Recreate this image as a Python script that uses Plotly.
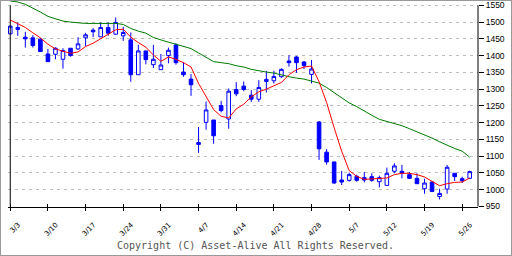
import plotly.graph_objects as go

# ---- data ----
tick_labels = ["3/3", "3/10", "3/17", "3/24", "3/31", "4/7", "4/14",
               "4/21", "4/28", "5/7", "5/12", "5/19", "5/26"]

opens = [1465, 1478, 1455, 1453, 1449, 1405, 1404, 1389, 1422, 1420,
         1453, 1476, 1456, 1484, 1464, 1459, 1447, 1343, 1414, 1373,
         1358, 1400, 1432, 1351, 1330, 1135, 1201, 1208, 1251, 1211,
         1299, 1309, 1282, 1270, 1323, 1325, 1337, 1384, 1396, 1381,
         1344, 1202, 1112, 1083, 1029, 1028, 1040, 1036, 1039, 1024,
         1013, 1055, 1055, 1045, 1034, 1003, 1023, 980, 1002, 1049,
         1033, 1034]
highs = [1490, 1499, 1471, 1461, 1452, 1420, 1425, 1422, 1422, 1455,
         1468, 1482, 1499, 1499, 1514, 1486, 1469, 1432, 1414, 1432,
         1405, 1424, 1437, 1380, 1345, 1187, 1263, 1208, 1265, 1302,
         1321, 1323, 1297, 1327, 1354, 1355, 1362, 1401, 1399, 1384,
         1387, 1205, 1121, 1083, 1056, 1051, 1045, 1053, 1049, 1042,
         1066, 1079, 1074, 1053, 1049, 1033, 1023, 1003, 1074, 1049,
         1039, 1057]
lows = [1463, 1459, 1424, 1424, 1411, 1382, 1389, 1361, 1397, 1417,
        1428, 1455, 1456, 1459, 1462, 1444, 1322, 1343, 1374, 1363,
        1358, 1377, 1373, 1337, 1280, 1110, 1179, 1137, 1231, 1182,
        1279, 1294, 1262, 1262, 1290, 1317, 1334, 1367, 1349, 1360,
        1317, 1089, 1075, 1018, 1014, 1024, 1024, 1022, 1024, 1007,
        1013, 1049, 1034, 1032, 1018, 988, 993, 971, 988, 1026,
        1020, 1032]
closes = [1488, 1484, 1450, 1430, 1412, 1382, 1422, 1415, 1400, 1435,
          1462, 1471, 1484, 1467, 1499, 1469, 1343, 1414, 1388, 1389,
          1372, 1416, 1379, 1343, 1313, 1141, 1238, 1161, 1236, 1294,
          1286, 1299, 1270, 1305, 1329, 1338, 1359, 1379, 1379, 1370,
          1360, 1122, 1083, 1020, 1023, 1045, 1028, 1029, 1028, 1036,
          1049, 1071, 1049, 1034, 1018, 1020, 995, 989, 1067, 1039,
          1027, 1054]

ma_short = [1506, 1495, 1484, 1468, 1453, 1434, 1420, 1413, 1407, 1411,
            1427, 1437, 1451, 1465, 1477, 1479, 1455, 1439, 1425, 1402,
            1383, 1396, 1389, 1379, 1366, 1317, 1280, 1239, 1219, 1214,
            1241, 1255, 1277, 1292, 1300, 1309, 1320, 1343, 1358, 1366,
            1369, 1322, 1260, 1185, 1115, 1057, 1040, 1031, 1032, 1033,
            1035, 1045, 1049, 1049, 1045, 1038, 1025, 1012, 1018, 1022,
            1023, 1035]
ma_long = [1563, 1560, 1553, 1542, 1530, 1517, 1509, 1503, 1500, 1497,
           1496, 1496, 1496, 1496, 1496, 1493, 1481, 1473, 1467, 1454,
           1446, 1440, 1434, 1427, 1421, 1408, 1394, 1382, 1379, 1376,
           1370, 1366, 1359, 1354, 1351, 1348, 1342, 1337, 1333, 1330,
           1324, 1318, 1305, 1290, 1274, 1259, 1248, 1234, 1222, 1210,
           1204, 1199, 1191, 1182, 1173, 1163, 1154, 1143, 1132, 1123,
           1115, 1097]

idx = list(range(len(closes)))
tick_vals = idx[::5]
y_ticks = list(range(950, 1551, 50))

BLUE = "#0000FF"

fig = go.Figure()
fig.add_trace(go.Candlestick(
    x=idx, open=opens, high=highs, low=lows, close=closes,
    increasing=dict(line=dict(color=BLUE, width=1), fillcolor="#FFFFFF"),
    decreasing=dict(line=dict(color=BLUE, width=1), fillcolor=BLUE),
    whiskerwidth=0, showlegend=False, hoverinfo="skip"))
fig.add_trace(go.Scatter(x=idx, y=ma_long, mode="lines",
                         line=dict(color="#007A00", width=1), showlegend=False))
fig.add_trace(go.Scatter(x=idx, y=ma_short, mode="lines",
                         line=dict(color="#FF0000", width=1), showlegend=False))

L, R, T, B = 8, 34, 1, 49
W, H = 512 - L - R, 256 - T - B

fig.update_layout(
    width=512, height=256,
    margin=dict(l=L, r=R, t=T, b=B, pad=0),
    paper_bgcolor="white", plot_bgcolor="white",
    showlegend=False,
    boxgap=0.32,
    xaxis=dict(
        range=[-0.3, 62.1], rangeslider=dict(visible=False),
        tickmode="array", tickvals=tick_vals, ticktext=tick_labels,
        tickangle=-45, ticks="outside", ticklen=3, tickcolor="black", tickwidth=1,
        showline=True, linecolor="black", linewidth=1,
        showgrid=False, zeroline=False,
        tickfont=dict(family="DejaVu Sans", size=7, color="black"),
        ticklabelshift=8, ticklabelstandoff=7,
        fixedrange=True,
    ),
    xaxis2=dict(
        overlaying="x", matches="x", side="bottom",
        tickmode="array", tickvals=tick_vals, ticktext=[""] * len(tick_vals),
        ticks="inside", ticklen=3, tickcolor="black", tickwidth=1,
        showline=False, showgrid=False, zeroline=False, showticklabels=False,
    ),
    yaxis=dict(
        range=[948.5, 1562.9], side="right",
        tickmode="array", tickvals=y_ticks,
        ticks="outside", ticklen=5, tickcolor="black", tickwidth=1,
        showline=False, zeroline=False,
        showgrid=True, gridcolor="#BEBEBE", gridwidth=1, griddash="3px,4px",
        tickfont=dict(family="Liberation Sans", size=8.5, color="black"),
        fixedrange=True,
    ),
)

# a dummy invisible trace so xaxis2 is drawn
fig.add_trace(go.Scatter(x=[0], y=[1000], xaxis="x2", mode="markers",
                         marker=dict(opacity=0), showlegend=False, hoverinfo="skip"))

# axis lines spanning 950..1550
fig.add_shape(type="line", xref="x", yref="y", x0=0, x1=0, y0=950, y1=1550,
              line=dict(color="black", width=1))
fig.add_shape(type="line", xref="paper", yref="y", x0=1, x1=1, y0=950, y1=1550,
              line=dict(color="black", width=1))
# outer frame
fig.add_shape(type="rect", xref="paper", yref="paper",
              x0=(0 - L) / W, x1=(512 - L) / W,
              y0=(T + H - 256) / H, y1=(T + H) / H,
              line=dict(color="#999999", width=2), fillcolor="rgba(0,0,0,0)")

fig.add_annotation(text="Copyright (C) Asset-Alive All Rights Reserved.",
                   xref="paper", yref="paper",
                   x=(255 - L) / W, y=(T + H - 246) / H,
                   xanchor="center", yanchor="middle", showarrow=False,
                   font=dict(family="DejaVu Sans Mono", size=10, color="#555555"))

fig.write_html("out.html")
